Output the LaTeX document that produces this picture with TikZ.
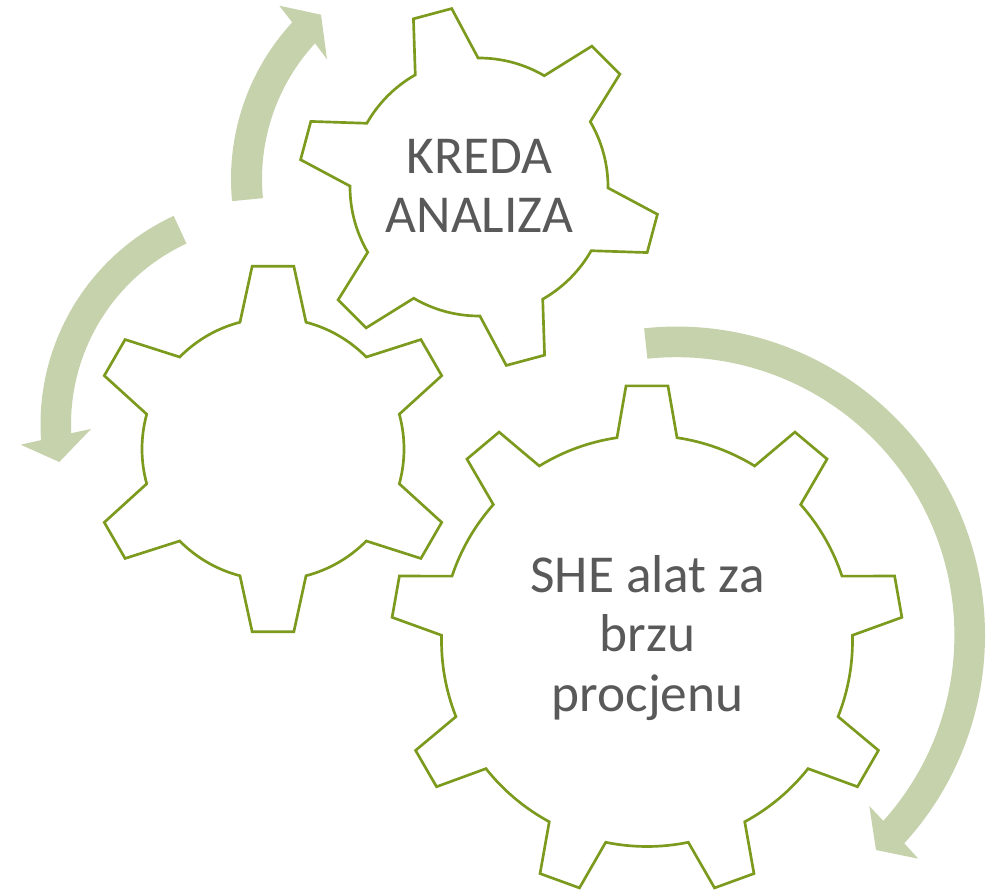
\documentclass[tikz,border=0pt]{standalone}
\usepackage{fontspec}
\setmainfont{Carlito}
\definecolor{gearcolor}{HTML}{7B9A1E}
\definecolor{flowcolor}{HTML}{C5D2AB}
\definecolor{labelcolor}{HTML}{595959}

% centre x, centre y, rotation, teeth, root radius, tip radius, root half angle, tip half angle
\newcommand{\gearwheel}[8]{%
  \begin{scope}[shift={(#1,#2)}]
    \pgfmathsetmacro{\gearstep}{360/#4}
    \draw[gearline] ({#3-#7}:#5)
      \foreach \i in {1,...,#4} {
        -- ({#3+(\i-1)*\gearstep-#8}:#6)
        -- ({#3+(\i-1)*\gearstep+#8}:#6)
        -- ({#3+(\i-1)*\gearstep+#7}:#5)
        arc[start angle={#3+(\i-1)*\gearstep+#7}, delta angle={\gearstep-2*#7}, radius=#5]
      } -- cycle;
  \end{scope}
}

\begin{document}
\begin{tikzpicture}[
    x=0.75pt, y=0.75pt,
    gearline/.style={draw=gearcolor, line width=2pt, line join=miter},
    flowarrow/.style={fill=flowcolor},
    gearlabel/.style={text=labelcolor, align=center, inner sep=0pt, font=\fontsize{40}{44.6}\selectfont}
]
\useasboundingbox (0,0) rectangle (988,890);

% Gears
\gearwheel{479}{703}{105}{6}{129}{180.5}{14.6}{6.3}
\gearwheel{273}{441}{90}{6}{131}{184}{14.6}{6.5}
\gearwheel{647}{249}{90}{9}{205.5}{256}{8.4}{4.7}

% Arrows
\fill[flowarrow] ([shift={(462,711)}]185.5:231) arc[start angle=185.5, end angle=137.3, radius=231]
    -- (279.3,884.3) -- (321,875.3) -- (327,830.7)
    -- ([shift={(462,711)}]137.3:200) arc[start angle=137.3, end angle=185.5, radius=200] -- cycle;
\fill[flowarrow] ([shift={(270.5,465.5)}]114.9:230) arc[start angle=114.9, end angle=183.9, radius=230]
    -- (20.7,445.3) -- (59.3,428) -- (91,461)
    -- ([shift={(270.5,465.5)}]182.5:199.5) arc[start angle=182.5, end angle=114.9, radius=199.5] -- cycle;
\fill[flowarrow] ([shift={(676.4,254.8)}]96:308.6) arc[start angle=96, end angle=-42.4, radius=308.6]
    -- (918.3,31.3) -- (876,40) -- (869.3,84)
    -- ([shift={(676.4,254.8)}]-41.9:278) arc[start angle=-41.9, end angle=96, radius=278] -- cycle;

% Labels
\node[gearlabel] (kreda) at (479.5,704) {KREDA\\ANALIZA};
\node[gearlabel] (she) at (647.5,252) {SHE alat za\\brzu\\procjenu};

\end{tikzpicture}
\end{document}
